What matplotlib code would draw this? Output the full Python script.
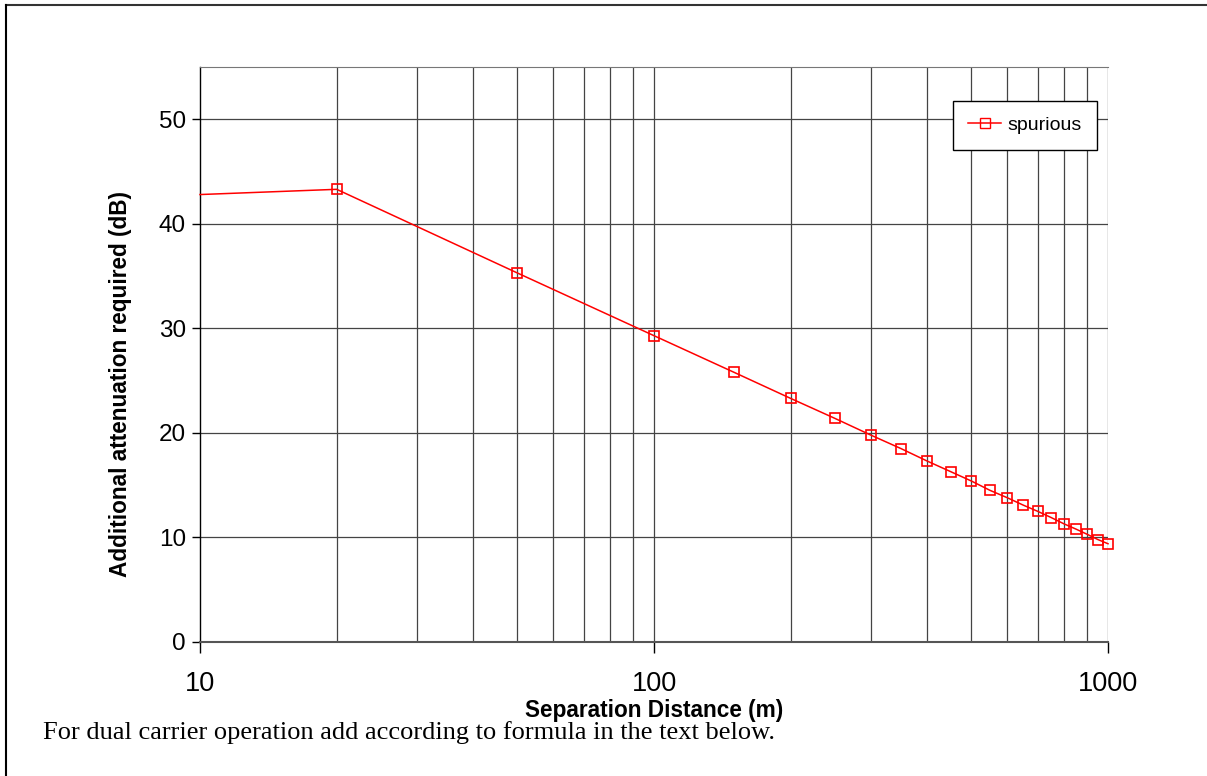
import numpy as np
import matplotlib.pyplot as plt
from matplotlib.lines import Line2D
from matplotlib.ticker import FixedLocator, NullFormatter

# separation distance (m) and required attenuation (dB)
distance = [10, 20, 50, 100, 150, 200, 250, 300, 350, 400, 450, 500, 550,
            600, 650, 700, 750, 800, 850, 900, 950, 1000]
attenuation = [42.8, 43.3, 35.3, 29.3, 25.8, 23.3, 21.4, 19.8, 18.5, 17.3,
               16.3, 15.4, 14.5, 13.8, 13.1, 12.5, 11.9, 11.3, 10.8, 10.3,
               9.8, 9.4]
series_name = "spurious"
y_ticks = [0, 10, 20, 30, 40, 50]
x_ticks = [10, 100, 1000]
x_minor = [20, 30, 40, 50, 60, 70, 80, 90, 200, 300, 400, 500, 600, 700, 800, 900]
footnote = "For dual carrier operation add according to formula in the text below."

plt.rcParams['font.family'] = ['Liberation Sans', 'DejaVu Sans']

fig = plt.figure(figsize=(12.07, 7.76), dpi=100)
ax = fig.add_axes([200/1207, 1 - 642/776, 908/1207, 575/776])

ax.set_xscale('log')
ax.set_xlim(10, 1000)
ax.set_ylim(0, 55)

# grid
for v in x_minor + x_ticks[1:]:
    ax.axvline(v, color='#444444', lw=0.9, zorder=1)
for v in y_ticks[1:]:
    ax.axhline(v, color='#444444', lw=0.9, zorder=1)

ax.plot(distance, attenuation, color='#ff0000', lw=1.1, marker='s',
        markersize=7, markerfacecolor='none', markeredgecolor='#ff0000',
        markeredgewidth=1.2, markevery=list(range(1, len(distance))),
        zorder=3, clip_on=False)

ax.spines['right'].set_visible(False)
ax.spines['top'].set_color('#777777')
ax.spines['bottom'].set_color('#555555')
ax.spines['bottom'].set_linewidth(1.5)
ax.spines['left'].set_color('black')
ax.spines['left'].set_linewidth(1.0)

ax.set_yticks(y_ticks)
ax.xaxis.set_major_locator(FixedLocator(x_ticks))
ax.xaxis.set_minor_locator(FixedLocator([]))
ax.xaxis.set_minor_formatter(NullFormatter())
ax.set_xticklabels([str(v) for v in x_ticks])
ax.tick_params(axis='y', direction='out', length=6, width=1, labelsize=17.5, pad=4)
ax.tick_params(axis='x', direction='out', length=8, width=1, labelsize=19.5, pad=13)

ax.set_ylabel('Additional attenuation required (dB)', fontsize=16.3,
              fontweight='bold')
ax.yaxis.set_label_coords((120 - 200) / 908, (642 - 384) / 575)
ax.set_xlabel('Separation Distance (m)', fontsize=16.3, fontweight='bold')
ax.xaxis.set_label_coords(0.5, (642 - 711) / 575)
ax.xaxis.label.set_va('center')
ax.yaxis.label.set_va('center')

handle = Line2D([], [], color='#ff0000', lw=1.1, marker='s', markersize=7,
                markerfacecolor='none', markeredgecolor='#ff0000')
leg = ax.legend([handle], [series_name], loc='upper right',
                bbox_to_anchor=(1097/1207, 1 - 101/776),
                bbox_transform=fig.transFigure, fontsize=14,
                frameon=True, fancybox=False, framealpha=1,
                edgecolor='black', handlelength=1.7, handletextpad=0.3,
                borderpad=0.8, borderaxespad=0)
leg.get_frame().set_linewidth(1.0)

fig.text(43/1207, 1 - 733/776, footnote, fontsize=19,
         family=['Liberation Serif', 'DejaVu Serif'], va='center')

# outer frame (top and left edges)
fig.add_artist(Line2D([6/1207, 1], [1 - 5/776, 1 - 5/776],
                      transform=fig.transFigure, color='#333333', lw=1.5))
fig.add_artist(Line2D([6/1207, 6/1207], [0, 1 - 5/776],
                      transform=fig.transFigure, color='black', lw=1.5))

fig.savefig('out.png', dpi=100)
